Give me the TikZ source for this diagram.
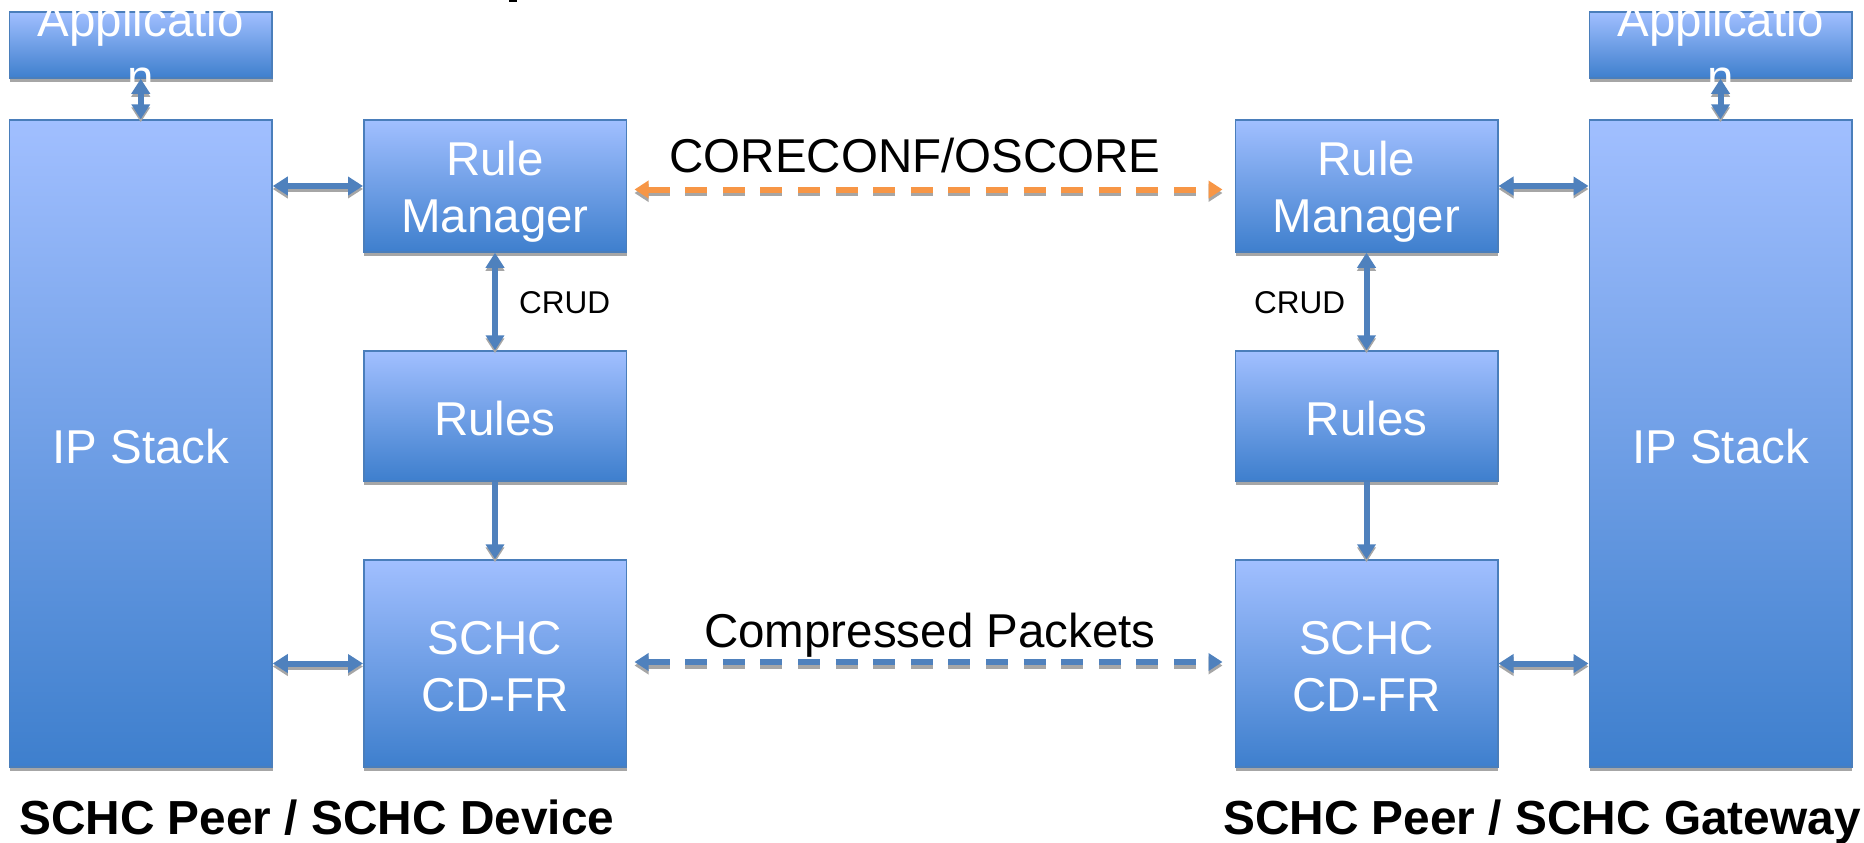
\documentclass[tikz,border=0pt]{standalone}
\usepackage{fontspec}
\setmainfont{Liberation Sans}
\usetikzlibrary{arrows.meta,shadows}

\definecolor{boxtop}{RGB}{161,191,255}
\definecolor{boxbot}{RGB}{62,127,205}
\definecolor{boxline}{RGB}{74,126,187}
\definecolor{shade}{RGB}{166,166,166}
\definecolor{link}{RGB}{79,129,189}
\definecolor{cfg}{RGB}{247,150,70}

% fixed line height so every box label sits the same way
\newcommand\lnstrut{\rule[-0.15em]{0pt}{1.13em}}

\begin{document}
\begin{tikzpicture}[x=1pt,y=-1pt,
  blk/.style={draw=boxline, line width=1.5pt, top color=boxtop, bottom color=boxbot,
    general shadow={fill=shade, shadow yshift=-4pt, shadow xshift=0.5pt},
    inner sep=0pt, minimum width=262.5pt},
  blktxt/.style={text=white, inner sep=0pt, align=center,
    font=\fontsize{47.5pt}{57pt}\selectfont},
  caption/.style={text=black, inner sep=0pt, font=\fontsize{47.5pt}{57pt}\selectfont},
  small/.style={text=black, inner sep=0pt, font=\fontsize{31.5pt}{38pt}\selectfont},
  peer/.style={text=black, inner sep=0pt, font=\bfseries\fontsize{47.8pt}{57pt}\selectfont},
  tipA/.tip={Triangle[length=15pt,width=18pt]},
  tipB/.tip={Triangle[length=14pt,width=17pt]},
  link/.style={draw=link, line width=6pt, tipA-tipA,
    preaction={draw=shade, line width=6pt, tipA-tipA, transform canvas={yshift=-3pt}}},
  onelink/.style={draw=link, line width=6pt, -tipA,
    preaction={draw=shade, line width=6pt, -tipA, transform canvas={yshift=-3pt}}},
  dashlink/.style={line width=6pt, dash pattern=on 22pt off 15.6pt, tipB-tipB,
    preaction={draw=shade, line width=6pt, dash pattern=on 22pt off 15.6pt, tipB-tipB,
      transform canvas={yshift=-3.5pt}}},
]
\useasboundingbox (0,0) rectangle (1864,843);

% fragment of a heading above the frame
\fill[black] (509,0) rectangle (517,2.5);

% ---- device side ----
\node[blk, minimum height=66pt]  (appL) at (140.75,45) {};
\node[blk, minimum height=647pt] (ipL)  at (140.75,443.5) {};
\node[blk, minimum height=132pt] (rmL)  at (495,186) {};
\node[blk, minimum height=130pt] (ruL)  at (495,416) {};
\node[blk, minimum height=207pt] (cdL)  at (495,663.5) {};

% ---- gateway side ----
\node[blk, minimum height=132pt] (rmR)  at (1366.5,186) {};
\node[blk, minimum height=130pt] (ruR)  at (1366.5,416) {};
\node[blk, minimum height=207pt] (cdR)  at (1366.5,663.5) {};
\node[blk, minimum height=66pt]  (appR) at (1720.5,45) {};
\node[blk, minimum height=647pt] (ipR)  at (1720.5,443.5) {};

% box labels
\node[blktxt] (appLt) at (appL.center) {\lnstrut Applicatio\\\lnstrut n};
\node[blktxt] (ipLt)  at (ipL.center)  {\lnstrut IP Stack};
\node[blktxt] (rmLt)  at (rmL.center)  {\lnstrut Rule\\\lnstrut Manager};
\node[blktxt] (ruLt)  at (ruL.center)  {\lnstrut Rules};
\node[blktxt] (cdLt)  at (cdL.center)  {\lnstrut SCHC\\\lnstrut CD-FR};
\node[blktxt] (appRt) at (appR.center) {\lnstrut Applicatio\\\lnstrut n};
\node[blktxt] (ipRt)  at (ipR.center)  {\lnstrut IP Stack};
\node[blktxt] (rmRt)  at (rmR.center)  {\lnstrut Rule\\\lnstrut Manager};
\node[blktxt] (ruRt)  at (ruR.center)  {\lnstrut Rules};
\node[blktxt] (cdRt)  at (cdR.center)  {\lnstrut SCHC\\\lnstrut CD-FR};

% local connectors, device side
\draw[link] (appL.south) -- (ipL.north);
\draw[link] (ipL.east |- rmL.west) -- (rmL.west);
\draw[link] (ipL.east |- cdL.west) -- (cdL.west);
\draw[link] (rmL.south) -- (ruL.north);
\draw[onelink] (ruL.south) -- (cdL.north);

% local connectors, gateway side
\draw[link] (appR.south) -- (ipR.north);
\draw[link] (rmR.east) -- (ipR.west |- rmR.east);
\draw[link] (cdR.east) -- (ipR.west |- cdR.east);
\draw[link] (rmR.south) -- (ruR.north);
\draw[onelink] (ruR.south) -- (cdR.north);

\node[small, anchor=base west] (crudL) at (519,313) {CRUD};
\node[small, anchor=base west] (crudR) at (1254,313) {CRUD};

% peer-to-peer exchanges
\draw[dashlink, draw=cfg] ([shift={(7.5,3.5)}]rmL.east) -- ([shift={(-12,3.5)}]rmR.west);
\draw[dashlink, draw=link] ([shift={(7.5,-1.5)}]cdL.east) -- ([shift={(-12,-1.5)}]cdR.west);

\node[caption, anchor=base] (cfgtxt) at (915,172) {CORECONF/OSCORE};
\node[caption, anchor=base] (pkttxt) at (930,647) {Compressed Packets};

% peer captions
\node[peer, anchor=base west] (devcap) at (19,834) {SCHC Peer / SCHC Device};
\node[peer, anchor=base west] (gwcap)  at (1223,834) {SCHC Peer / SCHC Gateway};
\end{tikzpicture}
\end{document}
